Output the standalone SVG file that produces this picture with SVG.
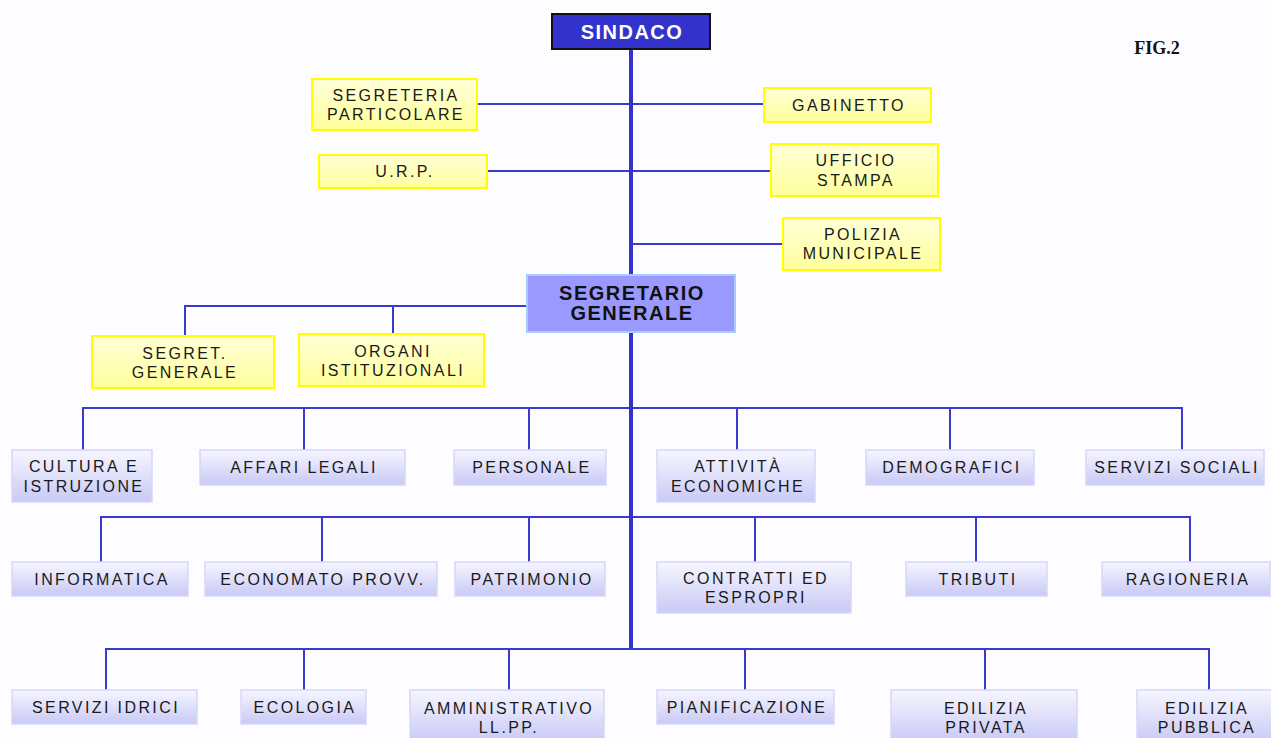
<svg xmlns="http://www.w3.org/2000/svg" width="1271" height="738" viewBox="0 0 1271 738">
<defs>
<linearGradient id="lav" x1="0" y1="0" x2="0" y2="1"><stop offset="0" stop-color="#f6f6ff"/><stop offset="1" stop-color="#c9c9f6"/></linearGradient>
<linearGradient id="yel" x1="0" y1="0" x2="0" y2="1"><stop offset="0" stop-color="#ffffd8"/><stop offset="1" stop-color="#ffff9c"/></linearGradient>
<style>
.t{font-family:"Liberation Sans",Arial,sans-serif;font-size:16px;fill:#1a1a1a;text-anchor:middle;letter-spacing:2.4px}
.b{font-family:"Liberation Sans",Arial,sans-serif;font-weight:bold;text-anchor:middle;letter-spacing:1.5px}
.y{fill:url(#yel);stroke:#ffff00;stroke-width:2}
.l{fill:url(#lav);stroke:#d6d6fa;stroke-width:1.5}
.c{fill:none;stroke:#3b3bd0;stroke-width:2}
.m{fill:none;stroke:#3333cc;stroke-width:4}
</style>
</defs>
<rect width="1271" height="738" fill="#fdfdff"/>
<text x="1157" y="54" font-family="Liberation Serif,serif" font-weight="bold" font-size="18" fill="#111" text-anchor="middle">FIG.2</text>
<g id="connectors">
<path class="c" d="M477 104H763M487 171H770M631 244H782"/>
<path class="c" d="M527 306H185V336M393 306V334"/>
<path class="c" d="M83 450V408H1182V450M304 408V450M529 408V450M737 408V450M950 408V450"/>
<path class="c" d="M101 562V517H1190V562M322 517V562M529 517V562M755 517V562M976 517V562"/>
<path class="c" d="M106 690V649H1209V690M304 649V690M509 649V690M745 649V690M985 649V690"/>
<path class="m" d="M631 49V275M631 332V649"/>
</g>
<g id="sindaco"><rect x="552" y="14" width="158" height="35" fill="#3333cc" stroke="#111" stroke-width="2"/><text class="b" x="632" y="39" font-size="20" fill="#fff">SINDACO</text></g>
<g id="segreteria-particolare"><rect class="y" x="312" y="79" width="165" height="51"/><text class="t" x="396" y="101">SEGRETERIA</text><text class="t" x="396" y="120">PARTICOLARE</text></g>
<g id="gabinetto"><rect class="y" x="764" y="88" width="167" height="34"/><text class="t" x="849" y="111">GABINETTO</text></g>
<g id="urp"><rect class="y" x="319" y="155" width="168" height="33"/><text class="t" x="405" y="177">U.R.P.</text></g>
<g id="ufficio-stampa"><rect class="y" x="771" y="144" width="167" height="52"/><text class="t" x="856" y="166">UFFICIO</text><text class="t" x="856" y="186">STAMPA</text></g>
<g id="polizia-municipale"><rect class="y" x="783" y="218" width="157" height="52"/><text class="t" x="863" y="240">POLIZIA</text><text class="t" x="863" y="259">MUNICIPALE</text></g>
<g id="segretario-generale"><rect x="527" y="275" width="208" height="57" fill="#9999ff" stroke="#a8ccff" stroke-width="2"/><text class="b" x="632" y="300" font-size="20" fill="#111">SEGRETARIO</text><text class="b" x="632" y="320" font-size="20" fill="#111">GENERALE</text></g>
<g id="segret-generale"><rect class="y" x="92" y="336" width="182" height="52"/><text class="t" x="185" y="359">SEGRET.</text><text class="t" x="185" y="378">GENERALE</text></g>
<g id="organi-istituzionali"><rect class="y" x="299" y="334" width="185" height="52"/><text class="t" x="393" y="357">ORGANI</text><text class="t" x="393" y="376">ISTITUZIONALI</text></g>
<g id="cultura"><rect class="l" x="12" y="450" width="140" height="52"/><text class="t" x="84" y="472">CULTURA E</text><text class="t" x="84" y="492">ISTRUZIONE</text></g>
<g id="affari-legali"><rect class="l" x="200" y="450" width="205" height="35"/><text class="t" x="304" y="473">AFFARI LEGALI</text></g>
<g id="personale"><rect class="l" x="454" y="450" width="152" height="35"/><text class="t" x="532" y="473">PERSONALE</text></g>
<g id="attivita"><rect class="l" x="657" y="450" width="158" height="52"/><text class="t" x="738" y="472">ATTIVITÀ</text><text class="t" x="738" y="492">ECONOMICHE</text></g>
<g id="demografici"><rect class="l" x="866" y="450" width="168" height="35"/><text class="t" x="952" y="473">DEMOGRAFICI</text></g>
<g id="servizi-sociali"><rect class="l" x="1086" y="450" width="178" height="35"/><text class="t" x="1177" y="473">SERVIZI SOCIALI</text></g>
<g id="informatica"><rect class="l" x="12" y="562" width="176" height="34"/><text class="t" x="102" y="585">INFORMATICA</text></g>
<g id="economato"><rect class="l" x="205" y="562" width="232" height="34"/><text class="t" x="323" y="585">ECONOMATO PROVV.</text></g>
<g id="patrimonio"><rect class="l" x="455" y="562" width="150" height="34"/><text class="t" x="532" y="585">PATRIMONIO</text></g>
<g id="contratti"><rect class="l" x="657" y="562" width="194" height="51"/><text class="t" x="756" y="584">CONTRATTI ED</text><text class="t" x="756" y="603">ESPROPRI</text></g>
<g id="tributi"><rect class="l" x="906" y="562" width="141" height="34"/><text class="t" x="978" y="585">TRIBUTI</text></g>
<g id="ragioneria"><rect class="l" x="1102" y="562" width="168" height="34"/><text class="t" x="1188" y="585">RAGIONERIA</text></g>
<g id="servizi-idrici"><rect class="l" x="12" y="690" width="185" height="34"/><text class="t" x="106" y="713">SERVIZI IDRICI</text></g>
<g id="ecologia"><rect class="l" x="241" y="690" width="125" height="34"/><text class="t" x="305" y="713">ECOLOGIA</text></g>
<g id="amministrativo"><rect class="l" x="410" y="690" width="194" height="52"/><text class="t" x="509" y="714">AMMINISTRATIVO</text><text class="t" x="509" y="733">LL.PP.</text></g>
<g id="pianificazione"><rect class="l" x="657" y="690" width="177" height="34"/><text class="t" x="747" y="713">PIANIFICAZIONE</text></g>
<g id="edilizia-privata"><rect class="l" x="891" y="690" width="186" height="52"/><text class="t" x="986" y="714">EDILIZIA</text><text class="t" x="986" y="733">PRIVATA</text></g>
<g id="edilizia-pubblica"><rect class="l" x="1137" y="690" width="140" height="52"/><text class="t" x="1207" y="714">EDILIZIA</text><text class="t" x="1207" y="733">PUBBLICA</text></g>
</svg>
